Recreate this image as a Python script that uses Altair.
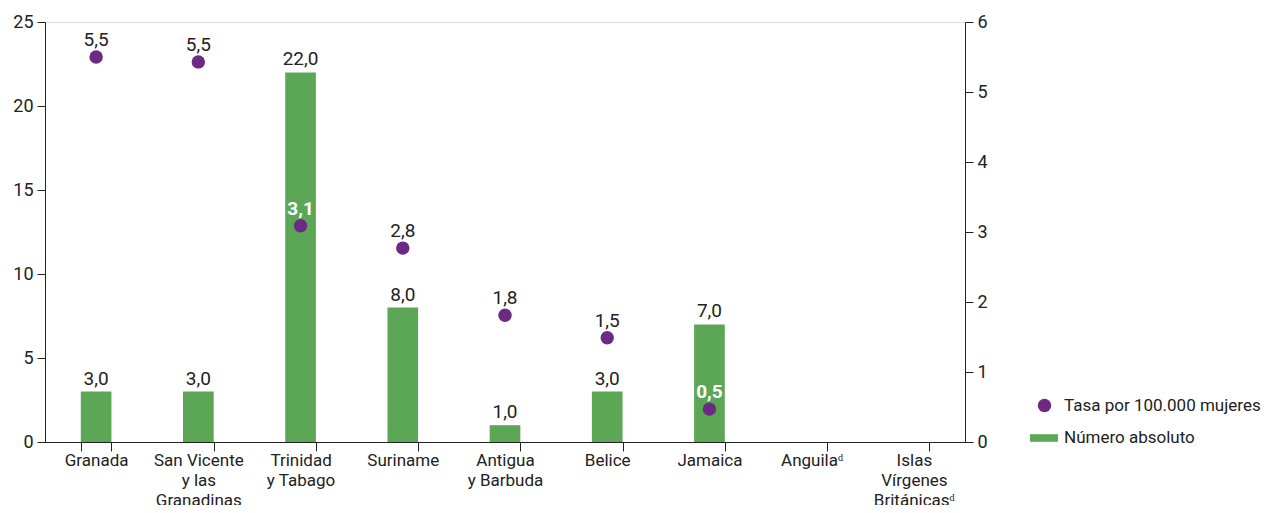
import altair as alt
import pandas as pd

FONT = "Roboto"
FS = 18      # y-axis labels
FX = 17      # x-axis labels
FV = 19      # value labels
FL = 17      # legend labels

paises = ["Granada", "San Vicente\ny las\nGranadinas", "Trinidad\ny Tabago", "Suriname",
          "Antigua\ny Barbuda", "Belice", "Jamaica", "Anguilaᵈ", "Islas\nVírgenes\nBritánicasᵈ"]
numero = [3.0, 3.0, 22.0, 8.0, 1.0, 3.0, 7.0, None, None]
numero_etiqueta = ["3,0", "3,0", "22,0", "8,0", "1,0", "3,0", "7,0", "", ""]
tasa = [5.5, 5.43, 3.09, 2.77, 1.81, 1.49, 0.47, None, None]
tasa_etiqueta = ["5,5", "5,5", "3,1", "2,8", "1,8", "1,5", "0,5", "", ""]
dentro = [False, False, True, False, False, False, True, False, False]

PURPLE = "#6c2a84"
GREEN = "#5ba755"
INK = "#222222"

df = pd.DataFrame({
    "pais": paises,
    "numero": numero,
    "numero_etiqueta": numero_etiqueta,
    "tasa": tasa,
    "tasa_etiqueta": tasa_etiqueta,
    "dentro": dentro,
    "serie_tasa": "Tasa por 100.000 mujeres",
    "serie_num": "Número absoluto",
})

x = alt.X("pais:N", sort=paises, title=None,
          scale=alt.Scale(domain=paises, paddingInner=0.7, paddingOuter=0.35),
          axis=alt.Axis(labelAngle=0, labelExpr="split(datum.label, '\\n')",
                        tickBand="extent", tickSize=9, labelPadding=1,
                        labelFontSize=FX, labelFont=FONT, labelColor=INK,
                        domainColor=INK, tickColor=INK, labelLineHeight=20))

base = alt.Chart(df).encode(x=x)

y_left = alt.Y("numero:Q", title=None,
               scale=alt.Scale(domain=[0, 25]),
               axis=alt.Axis(values=[0, 5, 10, 15, 20, 25], grid=False, tickSize=8,
                             labelFontSize=FS, labelFont=FONT, labelColor=INK,
                             domainColor=INK, tickColor=INK, labelPadding=4))

bars = base.transform_filter("isValid(datum.numero)").mark_bar(color=GREEN).encode(
    y=y_left,
    fill=alt.Fill("serie_num:N", scale=alt.Scale(range=[GREEN]),
                  legend=alt.Legend(title=None, orient="none", legendX=985, legendY=402,
                                    symbolType="M-1,-0.27H1V0.27H-1Z", symbolSize=784,
                                    symbolStrokeWidth=0, labelFontSize=FL, labelFont=FONT,
                                    labelColor=INK, padding=0, labelOffset=6, labelLimit=400)),
)
bar_labels = base.transform_filter("isValid(datum.numero)").mark_text(
    baseline="alphabetic", dy=-7, fontSize=FV, font=FONT, color=INK).encode(
    y=y_left, text="numero_etiqueta:N")

left = alt.layer(bars, bar_labels)

y_right = alt.Y("tasa:Q", title=None,
                scale=alt.Scale(domain=[0, 6]),
                axis=alt.Axis(orient="right", values=[0, 1, 2, 3, 4, 5, 6], grid=False, tickSize=8,
                              labelFontSize=FS, labelFont=FONT, labelColor=INK,
                              domainColor=INK, tickColor=INK, labelPadding=4))

points = base.transform_filter("isValid(datum.tasa)").mark_point(
    filled=True, size=180, opacity=1, shape="circle").encode(
    y=y_right,
    color=alt.Color("serie_tasa:N", scale=alt.Scale(range=[PURPLE]),
                    legend=alt.Legend(title=None, orient="none", legendX=991, legendY=375,
                                      symbolType="circle", symbolSize=180, labelFontSize=FL,
                                      labelFont=FONT, labelColor=INK, padding=0,
                                      labelOffset=11, labelLimit=400)),
)
pt_labels_out = base.transform_filter("isValid(datum.tasa) && !datum.dentro").mark_text(
    baseline="alphabetic", dy=-11, fontSize=FV, font=FONT, color=INK).encode(
    y=y_right, text="tasa_etiqueta:N")
pt_labels_in = base.transform_filter("isValid(datum.tasa) && datum.dentro").mark_text(
    baseline="alphabetic", dy=-11, fontSize=FV, font=FONT, color="white", fontWeight="bold").encode(
    y=y_right, text="tasa_etiqueta:N")

right = alt.layer(points, pt_labels_out, pt_labels_in)

chart = alt.layer(left, right).resolve_scale(
    y="independent", color="independent", fill="independent"
).properties(
    width=920, height=420,
    autosize=alt.AutoSizeParams(type="none"),
    padding={"left": 37, "top": 14, "right": 299, "bottom": 63},
).configure_view(stroke=None).configure(background="white")

chart.save("out.html", embed_options={"renderer": "svg", "actions": False})
